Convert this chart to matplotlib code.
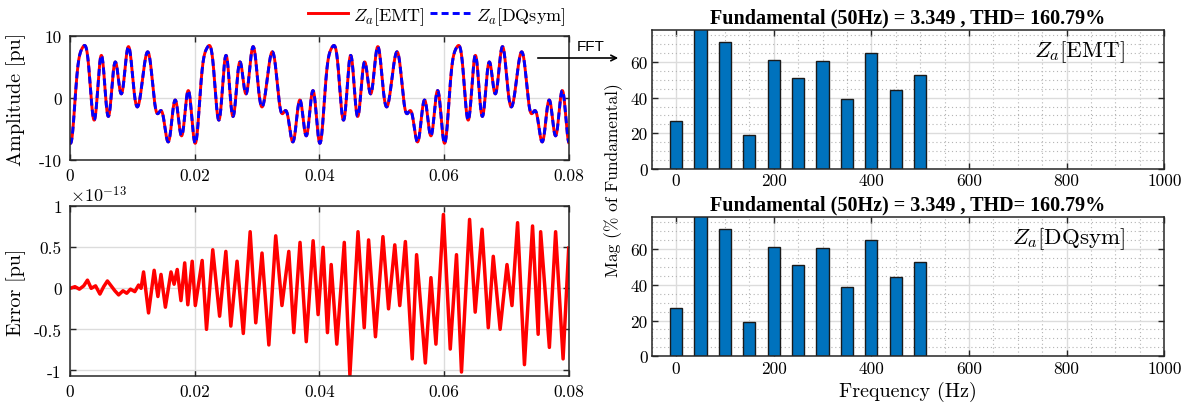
import numpy as np
import matplotlib
matplotlib.use("Agg")
import matplotlib.pyplot as plt
from matplotlib.ticker import MultipleLocator

plt.rcParams["font.family"] = "serif"
plt.rcParams["font.serif"] = ["cmr10"]
plt.rcParams["mathtext.fontset"] = "cm"
plt.rcParams["axes.unicode_minus"] = False

# harmonic content of Za (magnitude in % of the 50 Hz component, phase in rad)
f0 = 50.0
fund = 3.349
freqs = [0, 50, 100, 150, 200, 250, 300, 350, 400, 450, 500]
mag_pct = [27.0, 100.0, 71.0, 19.3, 61.0, 51.0, 60.5, 39.0, 65.0, 44.3, 52.8]
phase_rad = [-2.261, -1.101, -1.947, 3.067, -2.254, 2.103, 2.399, 0.959, -2.511, 3.065]

# EMT - DQsym error, turning points in units of 1e-13 pu
err_t = [0.0, 0.0008, 0.0015, 0.0022, 0.0028, 0.0034, 0.0041, 0.0048, 0.0054, 0.0060,
         0.0066, 0.0072, 0.0078, 0.0085, 0.0091, 0.0097, 0.0104, 0.0110, 0.0114,
         0.0118, 0.0126, 0.0135, 0.0141, 0.0146, 0.0153, 0.0162, 0.0167, 0.0172, 0.0178,
         0.0184, 0.0189, 0.0196, 0.0201, 0.0212, 0.0219, 0.0229, 0.0240, 0.0250, 0.0258,
         0.0268, 0.0278, 0.0289, 0.0298, 0.0308, 0.0319, 0.0330, 0.0340, 0.0351, 0.0359,
         0.0369, 0.0379, 0.0390, 0.0398, 0.0406, 0.0413, 0.0419, 0.0428, 0.0440, 0.0449,
         0.0462, 0.0472, 0.0479, 0.0490, 0.0502, 0.0511, 0.0521, 0.0529, 0.0538, 0.0549,
         0.0556, 0.0570, 0.0579, 0.0587, 0.0599, 0.0610, 0.0620, 0.0628, 0.0641, 0.0650,
         0.0661, 0.0671, 0.0679, 0.0690, 0.0701, 0.0709, 0.0718, 0.0729, 0.0742, 0.0751,
         0.0755, 0.0769, 0.0779, 0.0791, 0.0800]
err_v = [0.0, 0.02, -0.01, 0.03, 0.10, 0.0, 0.03, -0.07, 0.02, 0.09,
         0.03, -0.03, -0.08, -0.03, -0.06, -0.01, -0.04, 0.04, 0.0,
         0.20, -0.30, 0.22, -0.10, 0.17, -0.23, 0.20, 0.05, 0.23, -0.15,
         0.31, -0.20, 0.33, -0.21, 0.34, -0.50, 0.47, -0.34, 0.45, -0.46,
         0.33, -0.55, 0.69, -0.42, 0.43, -0.69, 0.64, -0.21, 0.45, -0.54,
         0.56, -0.65, 0.58, -0.32, 0.50, -0.54, 0.29, -0.68, 0.56, -1.06,
         0.69, -0.48, 0.59, -0.59, 0.63, -0.25, 0.53, -0.21, 0.57, -0.86,
         0.41, -0.91, 0.13, -0.68, 0.90, -0.74, 0.41, -1.02, 0.84, -0.29,
         0.72, -0.48, 0.39, -0.50, 0.29, -0.21, 0.80, -0.93, 0.76, -0.56,
         0.69, -0.72, 0.69, -0.86, 0.49]

# rebuild the time signal from its spectrum
t = np.linspace(0, 0.08, 4001)
za = np.full_like(t, mag_pct[0] / 100 * fund)
for n in range(1, len(freqs)):
    amp = mag_pct[n] / 100 * fund
    za += amp * np.cos(2 * np.pi * freqs[n] * t + phase_rad[n - 1])

W, H = 1195, 410
fig = plt.figure(figsize=(W / 100, H / 100), dpi=100)


def box(x0, y0, x1, y1):
    return [x0 / W, 1 - y1 / H, (x1 - x0) / W, (y1 - y0) / H]


ax1 = fig.add_axes(box(70, 37.3, 568.7, 160.7))
ax2 = fig.add_axes(box(70, 207.3, 568.7, 376.7))
ax3 = fig.add_axes(box(651.7, 30.7, 1164.3, 170))
ax4 = fig.add_axes(box(651.7, 217.7, 1164.3, 357.3))

grid_c = "#dcdcdc"
for ax in (ax1, ax2, ax3, ax4):
    for sp in ax.spines.values():
        sp.set_color("#262626")
        sp.set_linewidth(1.1)
    ax.tick_params(direction="in", top=True, right=True, length=4, width=1,
                   color="#262626", labelsize=12.5)
    ax.set_axisbelow(True)

xt = [0, 0.02, 0.04, 0.06, 0.08]
xtl = ["0", "0.02", "0.04", "0.06", "0.08"]

l1, = ax1.plot(t, za, color="red", lw=2.1)
l2, = ax1.plot(t, za, color="blue", lw=2.1, ls=(0, (2.4, 1.4)))
ax1.set_xlim(0, 0.08)
ax1.set_ylim(-10, 10)
ax1.set_xticks(xt, xtl)
ax1.set_yticks([-10, 0, 10], ["-10", "0", "10"])
ax1.grid(True, color=grid_c, lw=1)
ax1.tick_params(pad=6)
ax1.set_ylabel("Amplitude [pu]", fontsize=14.5)
ax1.yaxis.set_label_coords(-0.088, 0.5)
ax1.legend([l1, l2], [r"$Z_a[\mathrm{EMT}]$", r"$Z_a[\mathrm{DQsym}]$"],
           loc="lower right", bbox_to_anchor=(1.0, 1.05), ncol=2, frameon=False,
           fontsize=13, handlelength=2.2, columnspacing=0.3, handletextpad=0.3,
           borderaxespad=0.1, borderpad=0.1)

ax2.plot(err_t, err_v, color="red", lw=2.5)
ax2.set_xlim(0, 0.08)
ax2.set_ylim(-1.065, 1.0)
ax2.set_xticks(xt, xtl)
ax2.set_yticks([-1, -0.5, 0, 0.5, 1], ["-1", "-0.5", "0", "0.5", "1"])
ax2.grid(True, color=grid_c, lw=1)
ax2.tick_params(pad=6)
ax2.set_ylabel("Error [pu]", fontsize=14.5)
ax2.yaxis.set_label_coords(-0.088, 0.5)
ax2.text(0.0, 1.01, r"$\times10^{-13}$", transform=ax2.transAxes, fontsize=13,
         ha="left", va="bottom")

title = "Fundamental (50Hz) = 3.349 , THD= 160.79%"
for ax, name in ((ax3, r"$Z_a[\mathrm{EMT}]$"), (ax4, r"$Z_a[\mathrm{DQsym}]$")):
    ax.bar(freqs, mag_pct, width=25, color="#0072BD", edgecolor="#1a1a1a", lw=1)
    ax.set_xlim(-50, 1000)
    ax.set_ylim(0, 78.1)
    ax.set_xticks([0, 200, 400, 600, 800, 1000])
    ax.set_yticks([0, 20, 40, 60])
    ax.xaxis.set_minor_locator(MultipleLocator(50))
    ax.yaxis.set_minor_locator(MultipleLocator(5))
    ax.grid(True, which="major", color=grid_c, lw=1)
    ax.grid(True, which="minor", color="#b4b4b4", lw=0.8, ls=(0, (1, 2.5)))
    ax.tick_params(which="minor", length=0)
    ax.tick_params(pad=3)
    ax.set_title(title, fontsize=14.5, fontweight="bold", family="Liberation Serif", pad=5)
    ax.text(0.923, 0.847, name, transform=ax.transAxes, fontsize=16.5, ha="right",
            va="center")
ax4.set_xlabel("Frequency (Hz)", fontsize=14.5, labelpad=4)
fig.text(614 / W, 1 - 180 / H, "Mag (% of Fundamental)", rotation=90, fontsize=12.5,
         ha="center", va="center")

fig.text(591 / W, 1 - 47 / H, "FFT", family="Liberation Sans", fontsize=11,
         ha="center", va="center")
ax1.annotate("", xy=(621 / W, 1 - 59 / H), xytext=(535 / W, 1 - 59 / H),
             xycoords="figure fraction", textcoords="figure fraction",
             arrowprops=dict(arrowstyle="->", lw=1.2, color="black"),
             annotation_clip=False)

fig.savefig("out.png", dpi=100)
